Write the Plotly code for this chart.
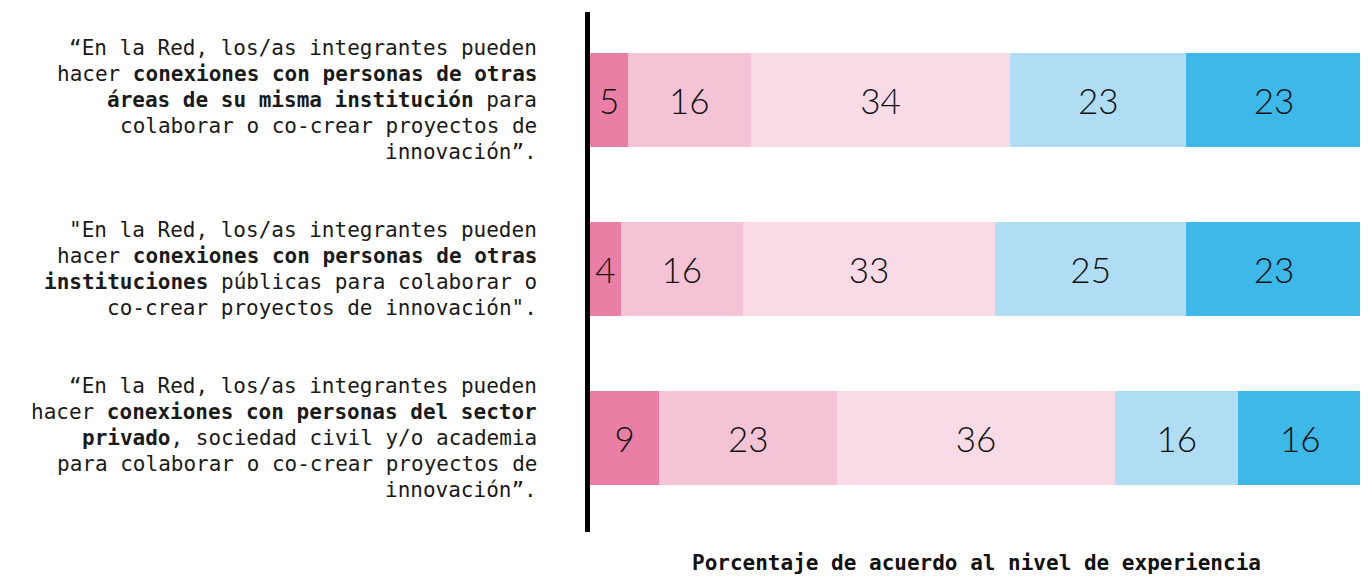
import plotly.graph_objects as go

# three statements, top to bottom
rows = [0, 1, 2]
levels = ["Nivel 1", "Nivel 2", "Nivel 3", "Nivel 4", "Nivel 5"]
colors = ["#E97FA5", "#F4C3D5", "#F9DBE7", "#B0DDF4", "#3DB8E8"]

nivel_1 = [5, 4, 9]
nivel_2 = [16, 16, 23]
nivel_3 = [34, 33, 36]
nivel_4 = [23, 25, 16]
nivel_5 = [23, 23, 16]
series = [nivel_1, nivel_2, nivel_3, nivel_4, nivel_5]

label_lines = [
    ["“En la Red, los/as integrantes pueden",
     "hacer <b>conexiones con personas de otras</b>",
     "<b>áreas de su misma institución</b> para",
     "colaborar o co-crear proyectos de",
     "innovación”."],
    ["\"En la Red, los/as integrantes pueden",
     "hacer <b>conexiones con personas de otras</b>",
     "<b>instituciones</b> públicas para colaborar o",
     "co-crear proyectos de innovación\"."],
    ["“En la Red, los/as integrantes pueden",
     "hacer <b>conexiones con personas del sector</b>",
     "<b>privado</b>, sociedad civil y/o academia",
     "para colaborar o co-crear proyectos de",
     "innovación”."],
]
x_title = "Porcentaje de acuerdo al nivel de experiencia"

mono = "DejaVu Sans Mono"

fig = go.Figure()
for name, vals, col in zip(levels, series, colors):
    fig.add_trace(go.Bar(
        y=rows, x=vals, orientation="h", name=name,
        marker=dict(color=col, line=dict(width=0)),
        text=vals, texttemplate="%{text}",
        textposition="inside", insidetextanchor="middle", textangle=0,
        constraintext="none", cliponaxis=False,
        textfont=dict(family="Lato", size=35, color="#111111", weight=300),
        width=0.556,
    ))

# statement labels, one annotation per line so spacing can be set
line_step = 0.154
for r, lines in zip(rows, label_lines):
    n = len(lines)
    for i, line in enumerate(lines):
        fig.add_annotation(
            xref="paper", yref="y", x=0, y=r + (i - (n - 1) / 2) * line_step,
            xanchor="right", yanchor="middle", xshift=-51,
            text=line, showarrow=False, align="right",
            font=dict(family=mono, size=21, color="#1a1a1a"),
        )

fig.add_annotation(
    xref="paper", yref="paper", x=0.5, y=0, yshift=-31,
    xanchor="center", yanchor="middle", showarrow=False,
    text="<b>" + x_title + "</b>",
    font=dict(family=mono, size=21, color="#111111"),
)

# page body has an 8px margin, so the figure is a bit smaller than the window
fig.update_layout(
    barmode="stack", barnorm="percent",
    width=1360, height=568,
    margin=dict(l=582, r=6, t=4, b=44),
    paper_bgcolor="white", plot_bgcolor="white",
    showlegend=False,
    xaxis=dict(range=[0, 100], showgrid=False, zeroline=False,
               showticklabels=False, ticks=""),
    yaxis=dict(range=[2.556, -0.52], showgrid=False, zeroline=False,
               showticklabels=False, ticks="",
               showline=True, linecolor="black", linewidth=5),
)

fig.write_html("out.html")
